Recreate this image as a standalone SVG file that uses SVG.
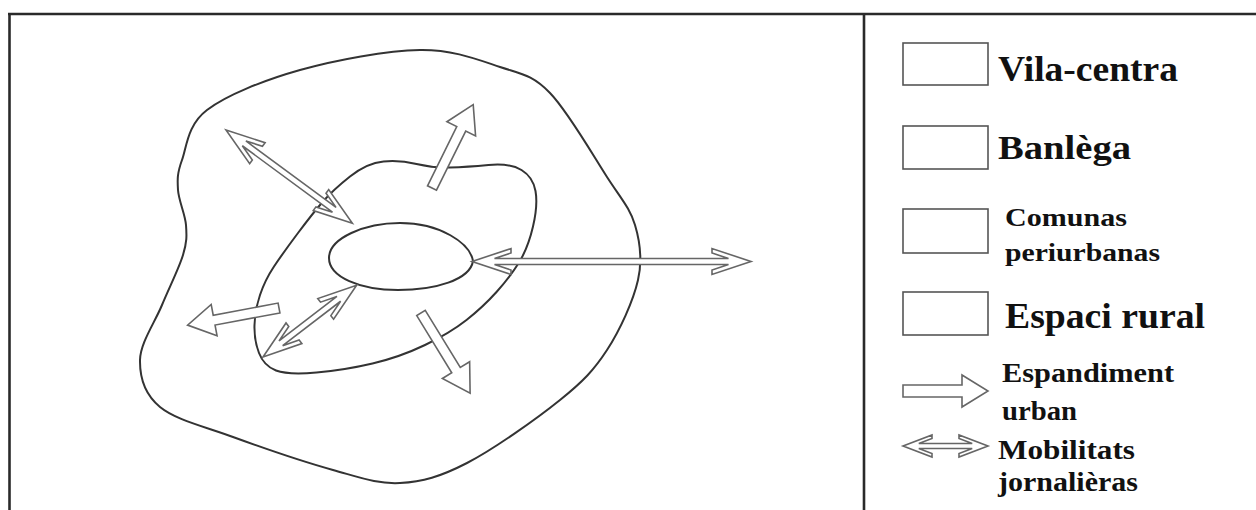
<svg xmlns="http://www.w3.org/2000/svg" width="1256" height="510" viewBox="0 0 1256 510">
<style>
.frame{stroke:#2a2a2a;stroke-width:2.6;fill:none}
.zone{fill:none;stroke:#333;stroke-width:2}
.arr{fill:#fff;stroke:#666;stroke-width:1.6;stroke-linejoin:miter}
.box{fill:#fff;stroke:#555;stroke-width:1.6}
.lbl{font-family:"Liberation Serif","Times New Roman",serif;font-weight:bold;fill:#111}
</style>
<rect x="0" y="0" width="1256" height="510" fill="#fff"/>
<g id="frame">
<line class="frame" x1="8" y1="14" x2="1256" y2="14"/>
<line class="frame" x1="9.5" y1="14" x2="9.5" y2="510"/>
<line class="frame" x1="864" y1="14" x2="864" y2="510"/>
</g>
<g id="espai-rural">
<path class="zone" d="M420,50 C453.3,49.5 478.3,59.8 500,67 C521.7,74.2 532.2,74.7 550,93 C567.8,111.3 592.8,155 607,177 C621.2,199 629.8,207.8 635,225 C640.2,242.2 642.7,259.2 638,280 C633.3,300.8 620,330 607,350 C594,370 583.3,381.2 560,400 C536.7,418.8 493.7,449.2 467,463 C440.3,476.8 422.3,481.8 400,483 C377.7,484.2 360.8,477.7 333,470 C305.2,462.3 261.8,447.5 233,437 C204.2,426.5 175.5,419.8 160,407 C144.5,394.2 139.7,377 140,360 C140.3,343 154.8,322.5 162,305 C169.2,287.5 179,268.3 183,255 C187,241.7 186.8,235.8 186,225 C185.2,214.2 178.7,200.8 178,190 C177.3,179.2 177.2,173.3 182,160 C186.8,146.7 187.3,125 207,110 C226.7,95 264.5,80 300,70 C335.5,60 386.7,50.5 420,50 Z"/>
</g>
<g id="comunas-periurbanas">
<path class="zone" d="M323,201.5 Q333,190 350,176.5 Q367,163 383.5,161.5 Q400,160 416.5,164 Q433,168 450,167.5 Q467,167 488.5,165 Q510,163 521.5,170 Q533,177 535.5,191 Q538,205 533,226.5 Q528,248 519,262.5 Q510,277 496.5,292 Q483,307 466.5,320 Q450,333 425,345 Q400,357 372.5,363.5 Q345,370 316.5,372.5 Q288,375 276,370.5 Q264,366 259,353 Q254,340 254.5,325 Q255,310 260,295 Q265,280 274,266.5 Q283,253 298,233 Q313,213 323,201.5 Z"/>
</g>
<g id="vila-centra">
<path class="zone" d="M329,258 C329,238 365,223 400,223 C440,223 470,243 473,261 C470,280 435,290 398,290 C360,290 329,277 329,258 Z"/>
</g>
<g id="connectors">
<path class="arr" transform="translate(472,261.5)" d="M0,0 L39,-13 L39,-8.5 L22.5,-3 L256.5,-3 L240,-8.5 L240,-13 L279,0 L240,13 L240,8.5 L256.5,3 L22.5,3 L39,8.5 L39,13 Z"/>
<path class="arr" transform="translate(226,130) rotate(36.4)" d="M0,0 L39,-13 L39,-8.5 L22.5,-3 L134.5,-3 L118,-8.5 L118,-13 L157,0 L118,13 L118,8.5 L134.5,3 L22.5,3 L39,8.5 L39,13 Z"/>
<path class="arr" transform="translate(263,357) rotate(-37.5)" d="M0,0 L39,-13 L39,-8.5 L22.5,-3 L95.5,-3 L79,-8.5 L79,-13 L118,0 L79,13 L79,8.5 L95.5,3 L22.5,3 L39,8.5 L39,13 Z"/>
<path class="arr" transform="translate(432,188) rotate(-63.7)" d="M0,-5 L66,-5 L66,-16 L93,0 L66,16 L66,5 L0,5 Z"/>
<path class="arr" transform="translate(279,308) rotate(169.4)" d="M0,-5 L66,-5 L66,-16 L93,0 L66,16 L66,5 L0,5 Z"/>
<path class="arr" transform="translate(421,313) rotate(58.5)" d="M0,-5 L67,-5 L67,-16 L94,0 L67,16 L67,5 L0,5 Z"/>
</g>
<g id="legend-vila-centra">
<rect class="box" x="903" y="43" width="85" height="42"/>
<text class="lbl" x="998" y="81" font-size="36" textLength="180" lengthAdjust="spacingAndGlyphs">Vila-centra</text>
</g>
<g id="legend-banlega">
<rect class="box" x="903" y="126" width="85" height="43"/>
<text class="lbl" x="998" y="159" font-size="34" textLength="133" lengthAdjust="spacingAndGlyphs">Banlèga</text>
</g>
<g id="legend-comunas">
<rect class="box" x="903" y="209" width="85" height="44"/>
<text class="lbl" x="1005" y="226" font-size="26" textLength="122" lengthAdjust="spacingAndGlyphs">Comunas</text>
<text class="lbl" x="1005" y="261" font-size="26" textLength="155" lengthAdjust="spacingAndGlyphs">periurbanas</text>
</g>
<g id="legend-espai-rural">
<rect class="box" x="903" y="292" width="85" height="43"/>
<text class="lbl" x="1005" y="328" font-size="35" textLength="200" lengthAdjust="spacingAndGlyphs">Espaci rural</text>
</g>
<g id="legend-espandiment">
<path class="arr" transform="translate(903,391)" d="M0,-6 L59,-6 L59,-16 L85,0 L59,16 L59,6 L0,6 Z"/>
<text class="lbl" x="1002" y="382" font-size="27" textLength="172" lengthAdjust="spacingAndGlyphs">Espandiment</text>
<text class="lbl" x="1002" y="420" font-size="27" textLength="75" lengthAdjust="spacingAndGlyphs">urban</text>
</g>
<g id="legend-mobilitats">
<path class="arr" transform="translate(903,446)" d="M0,0 L29,-11 L29,-7.5 L15.8,-2.5 L69.2,-2.5 L56,-7.5 L56,-11 L85,0 L56,11 L56,7.5 L69.2,2.5 L15.8,2.5 L29,7.5 L29,11 Z"/>
<text class="lbl" x="998" y="459" font-size="27" textLength="137" lengthAdjust="spacingAndGlyphs">Mobilitats</text>
<text class="lbl" x="998" y="491" font-size="27" textLength="140" lengthAdjust="spacingAndGlyphs">jornalièras</text>
</g>
</svg>
